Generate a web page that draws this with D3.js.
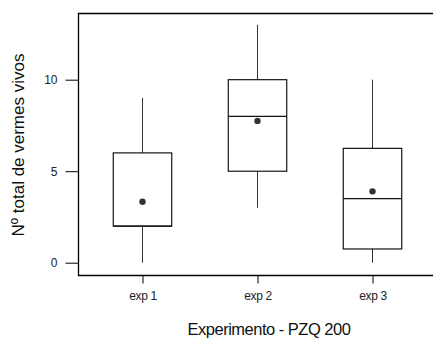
<!DOCTYPE html>
<html><head><meta charset="utf-8">
<script src="https://cdn.jsdelivr.net/npm/d3@7"></script>
<style>body{margin:0;background:#fff}svg{display:block}text{font-family:"Liberation Sans",Arial,sans-serif}</style>
</head><body>
<svg id="c" width="433" height="340"></svg>
<script>
const categories = ["exp 1", "exp 2", "exp 3"];
const whiskerLow = [0, 3, 0];
const q1 = [2, 5, 0.75];
const median = [2, 8, 3.5];
const q3 = [6, 10, 6.25];
const whiskerHigh = [9, 13, 10];
const means = [3.33, 7.75, 3.9];
const yTicks = [0, 5, 10];

(function () {
const svg = d3.select("#c");
const mL = 78.5, mT = 13.5, mB = 275.5, mR = 434;
const x = d3.scalePoint().domain(categories).range([142.5, 372.5]);
const y = d3.scaleLinear().domain([0, 10]).range([262.7, 79.7]);
const boxW = 58.5;

// frame (left, top, bottom)
svg.append("path").attr("d", `M${mR},${mT}H${mL}V${mB}H${mR}`)
  .attr("fill", "none").attr("stroke", "#000").attr("stroke-width", 1.3);

// y axis
const yAxis = d3.axisLeft(y).tickValues(yTicks).tickSize(13).tickPadding(7).tickFormat(d3.format("d"));
const gy = svg.append("g").attr("transform", `translate(${mL},0)`).call(yAxis);
gy.select(".domain").remove();
gy.selectAll(".tick line").attr("stroke", "#000");
gy.selectAll(".tick text").attr("x", -21).style("font-size", "12px").attr("fill", "#222");

// x axis
const xAxis = d3.axisBottom(x).tickSize(8).tickPadding(8);
const gx = svg.append("g").attr("transform", `translate(0,${mB})`).call(xAxis);
gx.select(".domain").remove();
gx.selectAll(".tick line").attr("stroke", "#000");
gx.selectAll(".tick text").style("font-size", "12px").style("letter-spacing", "-0.4px").attr("fill", "#222");

// boxes
categories.forEach((c, i) => {
  const cx = x(c);
  const g = svg.append("g");
  g.append("line").attr("x1", cx).attr("x2", cx).attr("y1", y(q3[i])).attr("y2", y(whiskerHigh[i]))
    .attr("stroke", "#333").attr("stroke-width", 1);
  g.append("line").attr("x1", cx).attr("x2", cx).attr("y1", y(q1[i])).attr("y2", y(whiskerLow[i]))
    .attr("stroke", "#333").attr("stroke-width", 1);
  g.append("rect").attr("x", cx - boxW / 2).attr("width", boxW)
    .attr("y", y(q3[i])).attr("height", y(q1[i]) - y(q3[i]))
    .attr("fill", "none").attr("stroke", "#000").attr("stroke-width", 1.1);
  g.append("line").attr("x1", cx - boxW / 2).attr("x2", cx + boxW / 2)
    .attr("y1", y(median[i])).attr("y2", y(median[i]))
    .attr("stroke", "#111").attr("stroke-width", 1.2);
  g.append("circle").attr("cx", cx).attr("cy", y(means[i])).attr("r", 3.2).attr("fill", "#333");
});

// titles
svg.append("text").attr("x", 269).attr("y", 335).attr("text-anchor", "middle")
  .style("font-size", "16.5px").style("letter-spacing", "-0.5px").attr("fill", "#111").text("Experimento - PZQ 200");
svg.append("text").attr("transform", "translate(24,145) rotate(-90)").attr("text-anchor", "middle")
  .style("font-size", "17px").attr("fill", "#111").text("Nº total de vermes vivos");
})();
</script>
</body></html>
